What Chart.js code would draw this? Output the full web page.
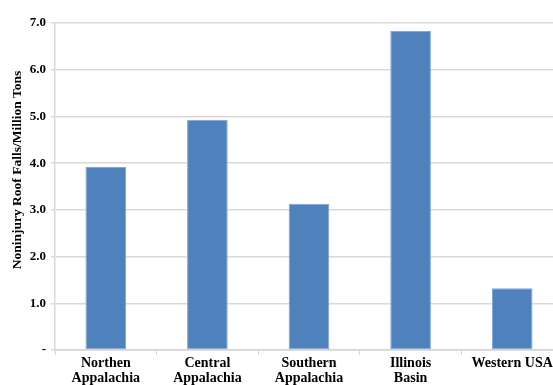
<!DOCTYPE html>
<html>
<head>
<meta charset="utf-8">
<script src="https://cdn.jsdelivr.net/npm/chart.js@4"></script>
<style>
  html, body { margin: 0; padding: 0; background: #fff; overflow: hidden; }
  #wrap { width: 565px; height: 385px; }
</style>
</head>
<body>
<div id="wrap"><canvas id="roofFallsChart" width="565" height="385"></canvas></div>
<script>
/* Noninjury roof fall rate by coal region */

const REGIONS = [
  ['Northen', 'Appalachia'],
  ['Central', 'Appalachia'],
  ['Southern', 'Appalachia'],
  ['Illinois', 'Basin'],
  'Western USA',
];
const FALL_RATES = [3.92, 4.93, 3.13, 6.83, 1.32];
const Y_TITLE = 'Noninjury Roof Falls/Million Tons';

const SERIF = '"Liberation Serif", "Times New Roman", serif';

// rotated y title, centred a little lower than the plot middle
const yTitlePlugin = {
  id: 'yTitle',
  afterDraw(chart) {
    const { ctx } = chart;
    ctx.save();
    ctx.translate(18, 170);
    ctx.rotate(-Math.PI / 2);
    ctx.font = 'bold 13.5px ' + SERIF;
    ctx.fillStyle = '#000';
    ctx.textAlign = 'center';
    ctx.textBaseline = 'middle';
    ctx.fillText(Y_TITLE, 0, 0);
    ctx.restore();
  },
};

new Chart(document.getElementById('roofFallsChart'), {
  type: 'bar',
  data: {
    labels: REGIONS,
    datasets: [{
      data: FALL_RATES,
      backgroundColor: '#4f81bd',
      borderColor: '#7fa6d6',
      borderWidth: 1,
      borderSkipped: false,
      barPercentage: 0.4,
      categoryPercentage: 1,
    }],
  },
  options: {
    responsive: false,
    animation: false,
    layout: { padding: { top: 23, right: 2, left: 0, bottom: 0 } },
    plugins: {
      legend: { display: false },
      tooltip: { enabled: false },
    },
    scales: {
      x: {
        grid: {
          drawOnChartArea: false,
          drawTicks: true,
          tickLength: 5,
          color: '#d4d4d4',
        },
        border: { color: '#d4d4d4', width: 1.5 },
        ticks: {
          color: '#000',
          font: { family: SERIF, size: 14, weight: 'bold', lineHeight: 1.05 },
          padding: 1,
          maxRotation: 0,
          autoSkip: false,
        },
        afterFit(scale) { scale.height = 35; },
      },
      y: {
        min: 0,
        max: 7,
        grid: {
          color: '#d9d9d9',
          lineWidth: 1.5,
          tickLength: 4,
        },
        border: { color: '#d9d9d9', width: 1.5 },
        ticks: {
          stepSize: 1,
          color: '#000',
          padding: 5,
          font: { family: SERIF, size: 13, weight: 'bold' },
          callback: v => (v === 0 ? '-' : v.toFixed(1)),
        },
        afterFit(scale) { scale.width = 55; },
      },
    },
  },
  plugins: [yTitlePlugin],
});
</script>
</body>
</html>
